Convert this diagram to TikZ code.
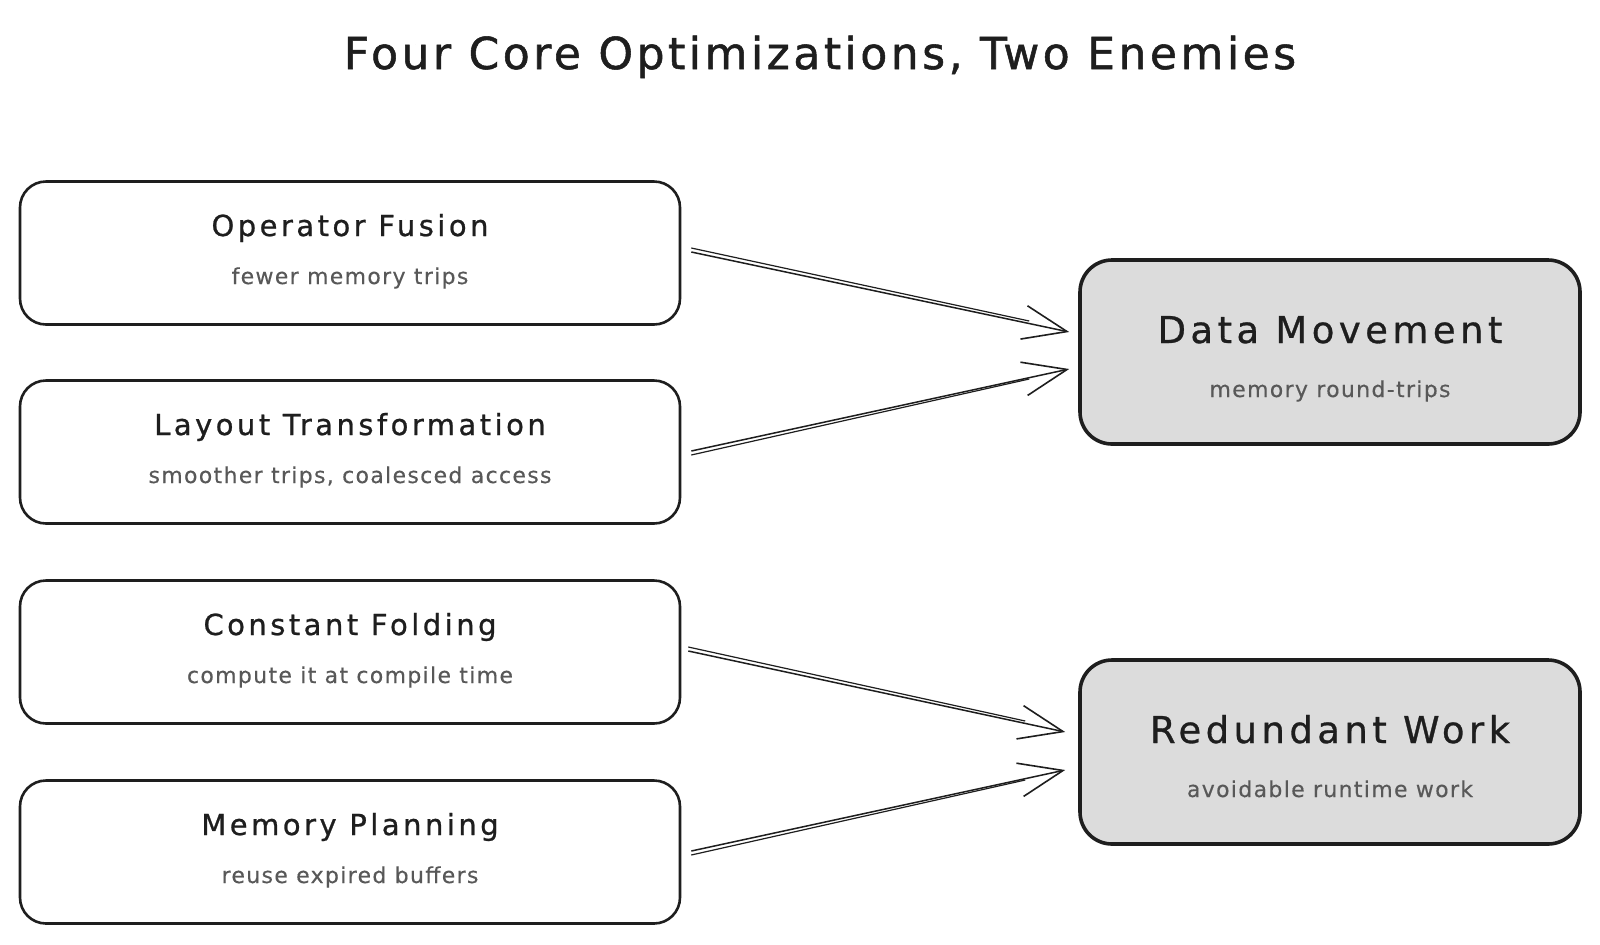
\documentclass[tikz,border=0pt]{standalone}
\usepackage{fontspec}
\setmainfont{DejaVu Sans}
\newfontfamily\handA{DejaVu Sans}[LetterSpace=8,FakeBold=1.2]
\newfontfamily\handB{DejaVu Sans}[LetterSpace=12,FakeBold=0.8]
\newfontfamily\handC{DejaVu Sans}[LetterSpace=6,FakeBold=0.3]
\usetikzlibrary{arrows.meta,calc}
\definecolor{ink}{HTML}{1E1E1E}
\definecolor{subgray}{HTML}{585858}
\definecolor{enemyfill}{HTML}{DCDCDC}
\tikzset{
  optbox/.style={draw=ink, line width=1.3pt, rounded corners=13pt, fill=white,
    minimum width=330pt, minimum height=71.5pt, inner sep=0pt},
  enemybox/.style={draw=ink, line width=1.8pt, rounded corners=16pt, fill=enemyfill,
    minimum width=250pt, minimum height=92pt, inner sep=0pt},
  optitle/.style={anchor=base, text=ink, font=\fontsize{14.5}{17}\handB, inner sep=0pt},
  enemytitle/.style={anchor=base, text=ink, font=\fontsize{18.5}{22}\handB, inner sep=0pt},
  subtext/.style={anchor=base, text=subgray, font=\fontsize{11}{13}\handC, inner sep=0pt},
  flow/.style={draw=ink, line width=0.75pt, -{Straight Barb[length=22pt,width=17pt,line width=0.8pt]}},
  flowshadow/.style={draw=ink, line width=0.6pt}
}
\begin{document}
\begin{tikzpicture}[x=0.5pt,y=-0.5pt]
\useasboundingbox[fill=white] (0,0) rectangle (1600,944);

\node[anchor=base, text=ink, font=\fontsize{22}{26}\handA, inner sep=0pt] (title) at (820,69) {Four Core Optimizations, Two Enemies};

% left boxes
\node[optbox] (of) at (350,253) {};
\node[optbox] (lt) at (350,452) {};
\node[optbox] (cf) at (350,652) {};
\node[optbox] (mp) at (350,852) {};

\node[optitle] (ofT) at (350,236) {Operator Fusion};
\node[subtext] (ofS) at (350,284) {fewer memory trips};
\node[optitle] (ltT) at (350,435) {Layout Transformation};
\node[subtext] (ltS) at (350,483) {smoother trips, coalesced access};
\node[optitle] (cfT) at (350,635) {Constant Folding};
\node[subtext] (cfS) at (350,683) {compute it at compile time};
\node[optitle] (mpT) at (350,835) {Memory Planning};
\node[subtext] (mpS) at (350,883) {reuse expired buffers};

% right boxes
\node[enemybox] (dm) at (1330,352) {};
\node[enemybox] (rw) at (1330,752) {};
\node[enemytitle] (dmT) at (1330,343) {Data Movement};
\node[subtext] (dmS) at (1330,397) {memory round-trips};
\node[enemytitle] (rwT) at (1330,743) {Redundant Work};
\node[subtext] (rwS) at (1330,797) {avoidable runtime work};

% connectors
\coordinate (a1s) at ($(of.east)+(10,-1)$);
\coordinate (a1e) at ($(dm.west)+(-9,-20)$);
\coordinate (a2s) at ($(lt.east)+(10,-1)$);
\coordinate (a2e) at ($(dm.west)+(-9,17)$);
\coordinate (a3s) at ($(cf.east)+(7,-1)$);
\coordinate (a3e) at ($(rw.west)+(-13,-20)$);
\coordinate (a4s) at ($(mp.east)+(10,-1)$);
\coordinate (a4e) at ($(rw.west)+(-13,18)$);

\draw[flow] (a1s) -- (a1e);
\draw[flowshadow] ($(a1s)+(0,-4)$) -- ($(a1e)+(-40,-11)$);
\draw[flow] (a2s) -- (a2e);
\draw[flowshadow] ($(a2s)+(0,4)$) -- ($(a2e)+(-40,10)$);
\draw[flow] (a3s) -- (a3e);
\draw[flowshadow] ($(a3s)+(0,-4)$) -- ($(a3e)+(-40,-11)$);
\draw[flow] (a4s) -- (a4e);
\draw[flowshadow] ($(a4s)+(0,4)$) -- ($(a4e)+(-40,10)$);
\end{tikzpicture}
\end{document}
